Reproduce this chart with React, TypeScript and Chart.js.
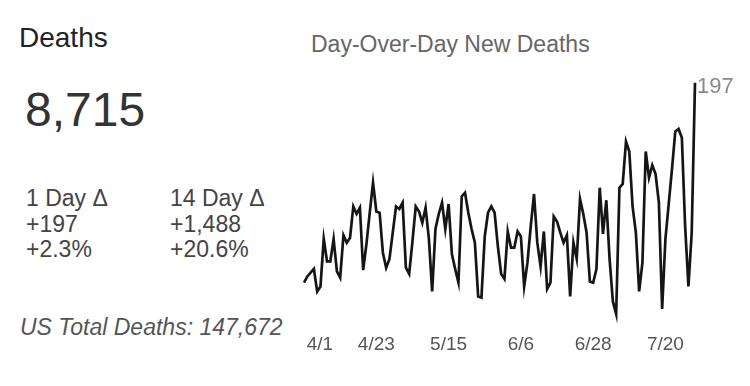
import React, { useEffect, useRef } from "react";
import { Chart, registerables } from "chart.js";

Chart.register(...registerables);

// ---- data ----
const startDate = { year: 2020, month: 4, day: 1 }; // first day shown (4/1)
const dayCount = 120;
const tickEvery = 22; // 4/1, 4/23, 5/15, 6/6, 6/28, 7/20

const newDeaths: number[] = [
  37, 42, 45, 48, 30, 34, 72, 54, 54, 72,
  46, 41, 75, 69, 73, 98, 92, 97, 47, 68,
  93, 117, 94, 93, 61, 49, 56, 77, 98, 96,
  101, 49, 44, 70, 98, 94, 85, 97, 72, 30,
  80, 92, 101, 80, 100, 60, 48, 37, 106, 109,
  93, 80, 69, 26, 25, 74, 93, 98, 93, 66,
  44, 40, 78, 65, 65, 78, 74, 34, 53, 82,
  108, 69, 50, 78, 32, 37, 90, 86, 77, 69,
  75, 26, 69, 56, 104, 92, 77, 38, 37, 48,
  113, 76, 103, 56, 22, 12, 113, 116, 150, 142,
  98, 77, 30, 53, 142, 121, 131, 124, 101, 16,
  72, 100, 128, 158, 160, 153, 82, 34, 77, 197,
];

const headline = "Deaths";
const totalValue = "8,715";
const oneDayLabel = "1 Day Δ";
const oneDayValues = ["+197", "+2.3%"];
const fourteenDayLabel = "14 Day Δ";
const fourteenDayValues = ["+1,488", "+20.6%"];
const footer = "US Total Deaths: 147,672";
const chartTitle = "Day-Over-Day New Deaths";

const dateLabels: string[] = [];
for (let i = 0; i < dayCount; i++) {
  const d = new Date(Date.UTC(startDate.year, startDate.month - 1, startDate.day) + i * 86400000);
  dateLabels.push(`${d.getUTCMonth() + 1}/${d.getUTCDate()}`);
}

const FONT = '"Liberation Sans", Arial, sans-serif';

const lastValueLabel = {
  id: "lastValueLabel",
  afterDatasetsDraw(chart: any) {
    const meta = chart.getDatasetMeta(0);
    const pts = meta.data;
    if (!pts.length) return;
    const pt = pts[pts.length - 1];
    const values = chart.data.datasets[0].data as number[];
    const ctx = chart.ctx;
    ctx.save();
    ctx.font = `22px ${FONT}`;
    ctx.fillStyle = "#8a8a8a";
    ctx.textAlign = "left";
    ctx.textBaseline = "alphabetic";
    ctx.fillText(String(values[values.length - 1]), pt.x + 2, pt.y + 10);
    ctx.restore();
  },
};

// first tick label is nudged inward (as in the source widget) using leading spaces
const tickText = (i: number) => {
  if (i % tickEvery !== 0) return null;
  return i === 0 ? "      " + dateLabels[i] : dateLabels[i];
};

export default function App() {
  const canvasRef = useRef<HTMLCanvasElement | null>(null);

  useEffect(() => {
    if (!canvasRef.current) return;
    const chart = new Chart(canvasRef.current, {
      type: "line",
      data: {
        labels: dateLabels,
        datasets: [
          {
            data: newDeaths,
            borderColor: "#151515",
            borderWidth: 2.7,
            pointRadius: 0,
            tension: 0,
            fill: false,
            clip: false as any,
          },
        ],
      },
      options: {
        animation: false,
        responsive: false,
        devicePixelRatio: 1,
        layout: { padding: { left: 14, right: 55, top: 79, bottom: 26 } },
        plugins: {
          legend: { display: false },
          title: { display: false },
          tooltip: { enabled: false },
        },
        scales: {
          x: {
            type: "category",
            grid: { display: false, drawTicks: false },
            border: { display: false },
            ticks: {
              autoSkip: false,
              maxRotation: 0,
              minRotation: 0,
              padding: 1,
              color: "#555",
              font: { family: FONT, size: 19, lineHeight: 1.53 },
              callback: (_v: any, i: number) => tickText(i),
            },
          },
          y: {
            display: false,
            min: 0,
            max: 200,
          },
        },
      },
      plugins: [lastValueLabel],
    });
    return () => chart.destroy();
  }, []);

  const abs = (extra: React.CSSProperties): React.CSSProperties => ({
    position: "absolute",
    whiteSpace: "nowrap",
    fontFamily: FONT,
    lineHeight: 1,
    ...extra,
  });

  return (
    <div
      style={{
        position: "fixed",
        left: 0,
        top: 0,
        width: 750,
        height: 386,
        background: "#fff",
        overflow: "hidden",
      }}
    >
      <div style={abs({ left: 19, top: 24, fontSize: 28, color: "#222" })}>{headline}</div>
      <div style={abs({ left: 25, top: 86, fontSize: 48, color: "#333" })}>{totalValue}</div>
      <div style={abs({ left: 26, top: 186, fontSize: 23, color: "#444", lineHeight: "25.7px" })}>
        <div>{oneDayLabel}</div>
        {oneDayValues.map((v) => (
          <div key={v}>{v}</div>
        ))}
      </div>
      <div style={abs({ left: 170, top: 186, fontSize: 23, color: "#444", lineHeight: "25.7px" })}>
        <div>{fourteenDayLabel}</div>
        {fourteenDayValues.map((v) => (
          <div key={v}>{v}</div>
        ))}
      </div>
      <div style={abs({ left: 20, top: 316, fontSize: 23, color: "#555", fontStyle: "italic" })}>{footer}</div>
      <div style={abs({ left: 311, top: 33, fontSize: 23, color: "#666" })}>{chartTitle}</div>
      <canvas
        ref={canvasRef}
        width={476}
        height={386}
        style={{ position: "absolute", left: 274, top: 0, width: 476, height: 386 }}
      />
    </div>
  );
}
